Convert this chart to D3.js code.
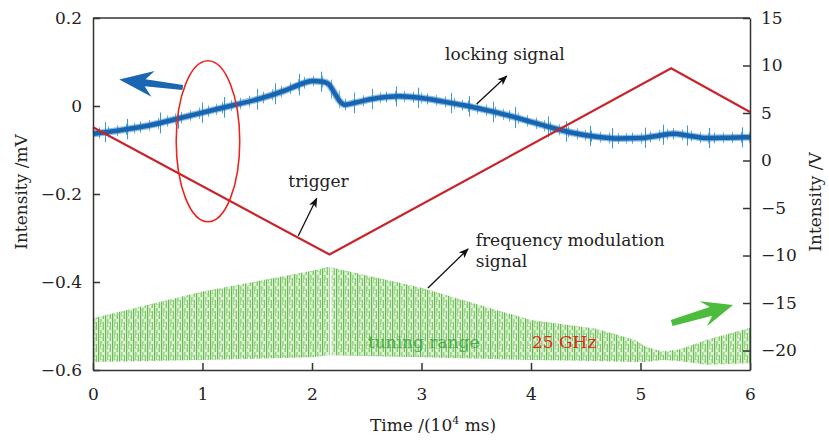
<!DOCTYPE html>
<html>
<head>
<meta charset="utf-8">
<script src="https://cdn.jsdelivr.net/npm/d3@7"></script>
<style>
  body { margin: 0; background: #fff; }
  text { font-family: "DejaVu Serif", serif; }
</style>
</head>
<body>
<div id="chart-area"></div>
<script>
// chart values
const xTicks = [0, 1, 2, 3, 4, 5, 6];
const leftTicks = [-0.6, -0.4, -0.2, 0, 0.2];
const rightTicks = [-20, -15, -10, -5, 0, 5, 10, 15];

// locking signal (mV, left axis)
const lockT = [0, 0.25, 0.5, 0.75, 1.0, 1.25, 1.5, 1.75, 1.9, 2.0, 2.1, 2.15, 2.2, 2.25, 2.3, 2.4, 2.6, 2.8, 3.0, 3.2, 3.4, 3.6, 3.8, 4.0, 4.2, 4.4, 4.6, 4.8, 5.0, 5.15, 5.3, 5.45, 5.6, 5.8, 6.0];
const lockV = [-0.063, -0.055, -0.045, -0.03, -0.015, 0.0, 0.015, 0.035, 0.05, 0.057, 0.055, 0.05, 0.032, 0.012, 0.003, 0.008, 0.018, 0.022, 0.018, 0.01, 0.001, -0.01, -0.022, -0.036, -0.05, -0.062, -0.07, -0.074, -0.073, -0.068, -0.063, -0.068, -0.073, -0.072, -0.071];

// trigger (V, right axis)
const trigT = [0, 2.16, 5.28, 6];
const trigV = [3.5, -9.9, 9.7, 5.1];

// frequency modulation signal envelope (V, right axis)
const fmT = [0, 1, 2, 2.15, 2.16, 3, 4, 4.6, 4.95, 5.05, 5.2, 5.35, 5.6, 6];
const fmUpper = [-16.6, -13.8, -11.6, -11.2, -11.2, -13.4, -16.8, -17.7, -18.9, -19.6, -20.1, -19.9, -18.9, -17.6];
const fmLower = [-21.2, -21.0, -20.7, -20.5, -20.5, -20.7, -21.0, -21.1, -21.2, -21.2, -21.0, -21.1, -21.5, -21.35];
const fmGapT = 2.17;

const width = 829, height = 440;
const margins = { top: 18, right: 79, bottom: 70, left: 93 };

const svg = d3.select("#chart-area").append("svg")
    .attr("width", width)
    .attr("height", height);

const x = d3.scaleLinear().domain([0, 6]).range([margins.left, width - margins.right]);
const yL = d3.scaleLinear().domain([-0.6, 0.2]).range([height - margins.bottom, margins.top]);
const yR = d3.scaleLinear().domain([-22.05, 15]).range([height - margins.bottom, margins.top]);

const defs = svg.append("defs");

// texture for the dense green oscillation
const gp = defs.append("pattern")
    .attr("id", "fmFill")
    .attr("patternUnits", "userSpaceOnUse")
    .attr("width", 7).attr("height", 11);
gp.append("rect").attr("width", 7).attr("height", 11).attr("fill", "#dcf0d2");
gp.append("rect").attr("x", 0).attr("width", 1.2).attr("height", 11).attr("fill", "#62bb4d");
gp.append("rect").attr("x", 2.4).attr("width", 1).attr("height", 8).attr("fill", "#78c563");
gp.append("rect").attr("x", 4.7).attr("y", 3).attr("width", 1.1).attr("height", 8).attr("fill", "#6bbf55");
gp.append("rect").attr("x", 3.2).attr("y", 5).attr("width", 1.2).attr("height", 2).attr("fill", "#ffffff");

// textures for the spiky blue noise
const bp = defs.append("pattern")
    .attr("id", "blueNoise")
    .attr("patternUnits", "userSpaceOnUse")
    .attr("width", 41).attr("height", 40);
[[3, 0.9], [11, 0.8], [17, 1], [26, 0.8], [35, 0.9]].forEach(([px, w]) => {
    bp.append("rect").attr("x", px).attr("width", w).attr("height", 40).attr("fill", "#4ea6dc");
});
const bp2 = defs.append("pattern")
    .attr("id", "blueSpikes")
    .attr("patternUnits", "userSpaceOnUse")
    .attr("width", 97).attr("height", 40);
[[8, 1], [30, 1.1], [63, 1], [81, 1]].forEach(([px, w]) => {
    bp2.append("rect").attr("x", px).attr("width", w).attr("height", 40).attr("fill", "#3d95d2");
});

defs.append("marker")
    .attr("id", "arrowBlack")
    .attr("markerUnits", "userSpaceOnUse")
    .attr("viewBox", "0 0 10 8")
    .attr("refX", 9).attr("refY", 4)
    .attr("markerWidth", 10).attr("markerHeight", 8)
    .attr("orient", "auto")
    .append("path")
    .attr("d", "M0,0 L10,4 L0,8 L2.5,4 z")
    .attr("fill", "#111");

const plot = svg.append("g");

// green FM band
const fmData = fmT.map((t, i) => [t, fmUpper[i], fmLower[i]]);
plot.append("path")
    .datum(fmData)
    .attr("fill", "url(#fmFill)")
    .attr("d", d3.area()
        .x(d => x(d[0]))
        .y0(d => yR(d[2]))
        .y1(d => yR(d[1])));
plot.append("line")
    .attr("x1", x(fmGapT)).attr("x2", x(fmGapT))
    .attr("y1", yR(-10.9)).attr("y2", yR(-21.0))
    .attr("stroke", "#fff").attr("stroke-width", 2);

// locking signal
const lockData = lockT.map((t, i) => [t, lockV[i]]);
const lockLine = d3.line().x(d => x(d[0])).y(d => yL(d[1])).curve(d3.curveMonotoneX);
plot.append("path").datum(lockData)
    .attr("fill", "none")
    .attr("stroke", "url(#blueSpikes)")
    .attr("stroke-width", 20)
    .attr("d", lockLine);
plot.append("path").datum(lockData)
    .attr("fill", "none")
    .attr("stroke", "url(#blueNoise)")
    .attr("stroke-width", 11)
    .attr("d", lockLine);
plot.append("path").datum(lockData)
    .attr("fill", "none")
    .attr("stroke", "#2a7bc2")
    .attr("stroke-width", 7)
    .attr("opacity", 0.5)
    .attr("d", lockLine);
plot.append("path").datum(lockData)
    .attr("fill", "none")
    .attr("stroke", "#1565b0")
    .attr("stroke-width", 4.5)
    .attr("d", lockLine);

// trigger
const trigData = trigT.map((t, i) => [t, trigV[i]]);
plot.append("path").datum(trigData)
    .attr("fill", "none")
    .attr("stroke", "#c8242b")
    .attr("stroke-width", 2.2)
    .attr("d", d3.line().x(d => x(d[0])).y(d => yR(d[1])));

// axes
function styleAxis(g) {
    g.select(".domain").attr("stroke", "#333").attr("stroke-width", 1.5);
    g.selectAll(".tick line").attr("stroke", "#333").attr("stroke-width", 1.5);
    g.selectAll(".tick text")
        .attr("font-family", "DejaVu Serif")
        .attr("font-size", 17)
        .attr("fill", "#222");
}
const fmtL = d => d === 0 ? "0" : d3.format(".1f")(d);

svg.append("g")
    .attr("transform", `translate(${margins.left},0)`)
    .call(d3.axisLeft(yL).tickValues(leftTicks).tickFormat(fmtL).tickSizeInner(-7).tickSizeOuter(0).tickPadding(11))
    .call(styleAxis);
svg.append("g")
    .attr("transform", `translate(${width - margins.right},0)`)
    .call(d3.axisRight(yR).tickValues(rightTicks).tickFormat(d3.format("d")).tickSizeInner(-7).tickSizeOuter(0).tickPadding(11))
    .call(styleAxis);
svg.append("g")
    .attr("transform", `translate(0,${height - margins.bottom})`)
    .call(d3.axisBottom(x).tickValues(xTicks).tickFormat(d3.format("d")).tickSizeInner(-7).tickSizeOuter(0).tickPadding(18))
    .call(styleAxis);
svg.append("line")
    .attr("x1", margins.left).attr("x2", width - margins.right)
    .attr("y1", margins.top).attr("y2", margins.top)
    .attr("stroke", "#333").attr("stroke-width", 1.5);

// axis titles
svg.append("text")
    .attr("transform", `translate(27,192) rotate(-90)`)
    .attr("text-anchor", "middle")
    .attr("font-size", 17).attr("fill", "#222")
    .text("Intensity /mV");
svg.append("text")
    .attr("transform", `translate(821,202) rotate(-90)`)
    .attr("text-anchor", "middle")
    .attr("font-size", 17).attr("fill", "#222")
    .text("Intensity /V");
const xt = svg.append("text")
    .attr("x", 433).attr("y", 431)
    .attr("text-anchor", "middle")
    .attr("font-size", 17).attr("fill", "#222");
xt.append("tspan").text("Time /(10");
xt.append("tspan").attr("font-size", 11).attr("dy", -7).text("4");
xt.append("tspan").attr("dy", 7).text(" ms)");

// annotations
const ann = svg.append("g").attr("font-size", 17).attr("fill", "#222");
ann.append("text").attr("x", x(3.215)).attr("y", yL(0.1045)).text("locking signal");
ann.append("text").attr("x", x(1.784)).attr("y", yL(-0.184)).text("trigger");
ann.append("text").attr("x", x(3.495)).attr("y", yL(-0.318)).text("frequency modulation");
ann.append("text").attr("x", x(3.495)).attr("y", yL(-0.3666)).text("signal");
ann.append("text").attr("x", x(2.511)).attr("y", yL(-0.5507))
    .attr("fill", "#3aa53a").attr("opacity", 0.85).text("tuning range");
ann.append("text").attr("x", x(4.009)).attr("y", yL(-0.5507))
    .attr("fill", "#e8261e").text("25 GHz");

const arrows = [
    [[3.504, 0.0045], [3.778, 0.068]],
    [[1.875, -0.295], [2.043, -0.2098]],
    [[3.059, -0.4136], [3.425, -0.325]]
];
arrows.forEach(([a, b]) => {
    svg.append("line")
        .attr("x1", x(a[0])).attr("y1", yL(a[1]))
        .attr("x2", x(b[0])).attr("y2", yL(b[1]))
        .attr("stroke", "#111").attr("stroke-width", 1.3)
        .attr("marker-end", "url(#arrowBlack)");
});

// fat direction arrows
function fatArrow(x0, y0, x1, y1, shaft, headLen, headHalf, color) {
    const L = Math.hypot(x1 - x0, y1 - y0);
    const ang = Math.atan2(y1 - y0, x1 - x0) * 180 / Math.PI;
    const pts = [[0, -shaft * 0.7], [L - headLen + 4, -shaft], [L - headLen - 4, -headHalf],
                 [L, 0], [L - headLen - 4, headHalf], [L - headLen + 4, shaft], [0, shaft * 0.7]];
    svg.append("path")
        .attr("transform", `translate(${x0},${y0}) rotate(${ang})`)
        .attr("d", d3.line()(pts) + "Z")
        .attr("fill", color);
}
fatArrow(x(0.82), yL(0.042), x(0.24), yL(0.06), 3.5, 30, 13, "#1a66b0");
fatArrow(x(5.285), yR(-17.1), x(5.845), yR(-15.2), 4.5, 27, 13, "#4cbc3c");

// red ellipse
svg.append("ellipse")
    .attr("cx", x(1.05)).attr("cy", yL(-0.08))
    .attr("rx", x(0.29) - x(0)).attr("ry", yL(0) - yL(0.183))
    .attr("fill", "none")
    .attr("stroke", "#e8261e").attr("stroke-width", 1.6);
</script>
</body>
</html>
